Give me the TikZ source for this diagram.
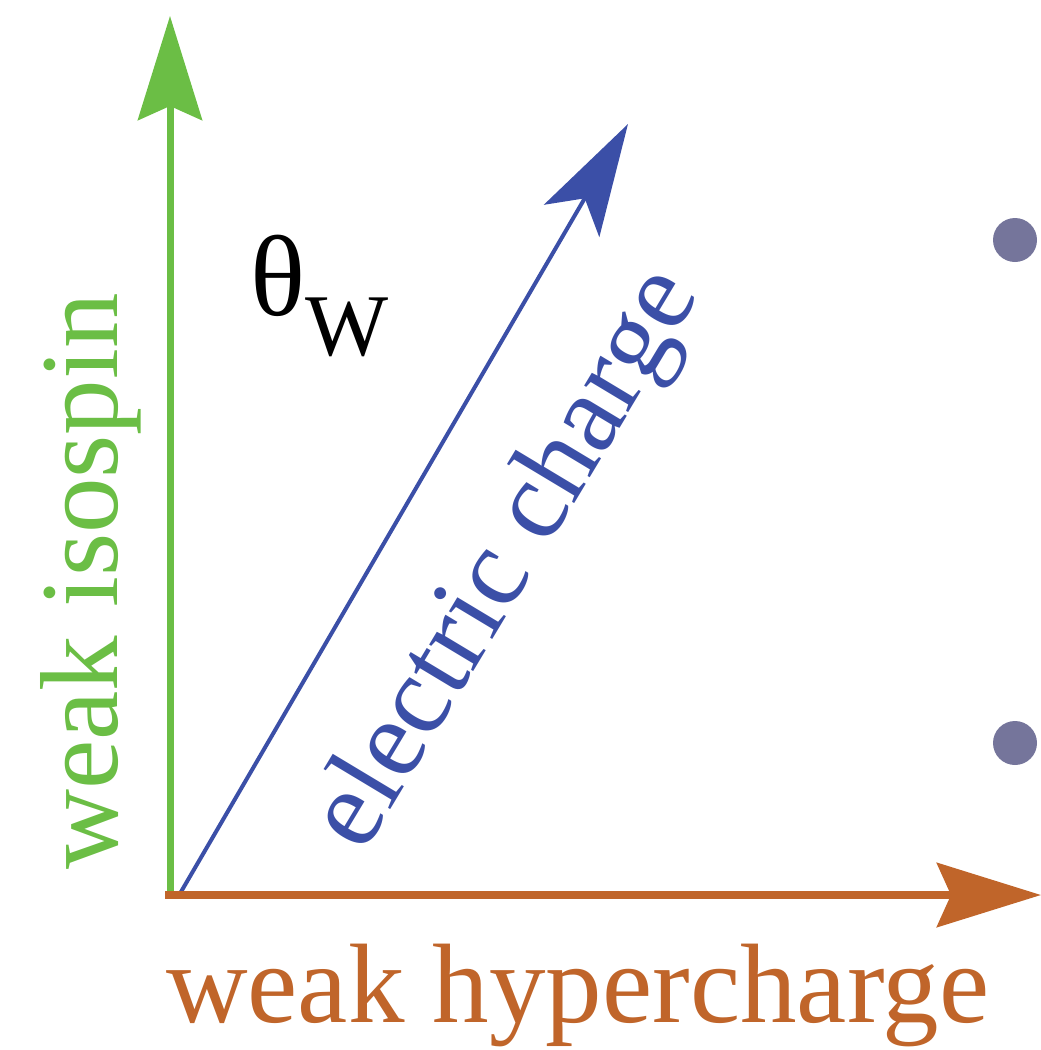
\documentclass[tikz,border=0pt]{standalone}
\usepackage{fontspec}
\setmainfont{Liberation Serif}
\definecolor{isoc}{HTML}{6BBE45}
\definecolor{hypc}{HTML}{C0652A}
\definecolor{emc}{HTML}{3B4FA7}
\definecolor{dotc}{HTML}{75759B}
\usetikzlibrary{arrows.meta}
\tikzset{
  ax/.style={line width=7pt,-{Stealth[length=104pt,width=64pt,inset=14pt]}},
  emax/.style={line width=4pt,-{Stealth[length=112pt,width=64pt,inset=26pt]}},
  lbl/.style={inner sep=0pt,font=\fontsize{113}{113}\selectfont},
  pt/.style={circle,fill=dotc,minimum size=44pt,inner sep=0pt},
}

\begin{document}
\begin{tikzpicture}[x=1pt,y=-1pt]
  \useasboundingbox (0,0) rectangle (1041,1050);
  % axes
  \coordinate (o) at (170,895);
  \coordinate (iso) at (170,16);
  \coordinate (hyp) at (1041,895);
  \coordinate (em) at (628,124);
  \draw[ax,draw=isoc,fill=isoc] (o) -- (iso);
  \draw[emax,draw=emc,fill=emc] ([xshift=8pt,yshift=-2pt]o) -- (em);
  \draw[ax,line width=8pt,draw=hypc,fill=hypc] ([xshift=-5pt]o) -- (hyp);
  % labels
  \node[lbl,font=\fontsize{111}{111}\selectfont,text=isoc,rotate=90,anchor=base west] (isol) at (117,870) {weak isospin};
  \node[lbl,text=hypc,anchor=base west] (hypl) at (166,1022) {weak hypercharge};
  \node[lbl,font=\fontsize{112}{112}\selectfont,text=emc,rotate=59,anchor=base] (eml) at (532,574) {electric charge};
  \node[inner sep=0pt,anchor=base west,font=\fontsize{115}{115}\selectfont] (thw) at (250,315)
    {θ\fontsize{88}{88}\selectfont\raisebox{-40pt}{W}};
  % dots
  \node[pt] (p1) at (1015,240) {};
  \node[pt] (p2) at (1015,743) {};
\end{tikzpicture}
\end{document}
